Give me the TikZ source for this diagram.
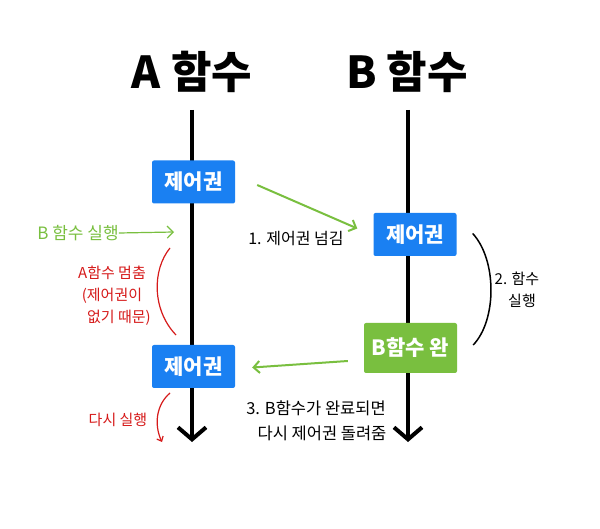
\documentclass[tikz,border=0pt]{standalone}
\usepackage{fontspec}
\setmainfont{Noto Sans CJK KR}
\usetikzlibrary{arrows.meta}
\definecolor{ctrlblue}{HTML}{1A80F2}
\definecolor{donegreen}{HTML}{79BF3F}
\definecolor{notered}{HTML}{D61A1A}

\begin{document}
\begin{tikzpicture}[x=1pt,y=-1pt,
    lifeline/.style={line width=4.5pt,-{Straight Barb[length=12pt,width=28pt,line width=4pt]}},
    ctrlbox/.style={fill=ctrlblue,text=white,inner sep=0pt,minimum width=83pt,minimum height=43pt,rounded corners=2pt,font=\fontsize{21}{23}\selectfont\bfseries},
    passarrow/.style={draw=donegreen,line width=2pt,-{Straight Barb[length=6pt,width=12pt]}},
    note/.style={font=\fontsize{15}{22}\selectfont,align=center,inner sep=0pt}]
  \fill[white] (0,0) rectangle (600,529);
  \useasboundingbox (0,0) rectangle (600,529);

  % titles
  \node[font=\fontsize{44}{48}\selectfont\bfseries] (ta) at (192,72) {A 함수};
  \node[font=\fontsize{44}{48}\selectfont\bfseries] (tb) at (407,72) {B 함수};

  % lifelines
  \coordinate (atop) at (192,110);
  \coordinate (abot) at (192,442);
  \coordinate (btop) at (408,110);
  \coordinate (bbot) at (408,442);
  \draw[lifeline] (atop) -- (abot);
  \draw[lifeline] (btop) -- (bbot);

  % control boxes
  \node[ctrlbox] (a1) at (193.5,182) {제어권};
  \node[ctrlbox] (b1) at (415,234.5) {제어권};
  \node[ctrlbox,fill=donegreen,minimum width=93pt,minimum height=50pt] (bdone) at (410.5,348) {B함수 완};
  \node[ctrlbox] (a2) at (193.5,366.5) {제어권};

  % 1. pass control
  \draw[passarrow] ([shift={(22,3)}]a1.east) -- ([shift={(-16,-6)}]b1.west);
  \node[note,font=\fontsize{16}{22}\selectfont] (pass) at (296,239) {1. 제어권 넘김};

  % 2. B runs
  \draw[line width=1.5pt] ([shift={(16,-1)}]b1.east) .. controls (497,260) and (497,320) .. ([shift={(16,-3)}]bdone.east);
  \node[note] (brun) at (517,290) {2. 함수\\\hspace{10pt}실행};

  % 3. give back
  \draw[passarrow] ([shift={(-16,13)}]bdone.west) -- ([shift={(17,1)}]a2.east);
  \node[note,font=\fontsize{16.5}{25}\selectfont] (back) at (316,421) {3. B함수가 완료되면\\\hspace{12pt}다시 제어권 돌려줌};

  % left side notes
  \node[note,text=donegreen,font=\fontsize{17}{20}\selectfont] (bexec) at (78,233) {B 함수 실행};
  \coordinate (bexecend) at (174,232);
  \draw[passarrow,line width=1.2pt] (bexec.east) -- (bexecend);

  \coordinate (stopa) at (170,248);
  \coordinate (stopb) at (176,335);
  \draw[notered,line width=1.2pt] (stopa) .. controls (152,270) and (152,310) .. (stopb);
  \node[note,text=notered] (stop) at (112,296) {A함수 멈춤\\(제어권이\\\hspace{14pt}없기 때문)};

  \node[note,text=notered] (again) at (118,420) {다시 실행};
  \coordinate (againa) at (170,393);
  \coordinate (againb) at (162,442);
  \draw[notered,line width=1.2pt,-{Straight Barb[length=4pt,width=7pt]}] (againa) .. controls (156,405) and (154,425) .. (againb);
\end{tikzpicture}
\end{document}
